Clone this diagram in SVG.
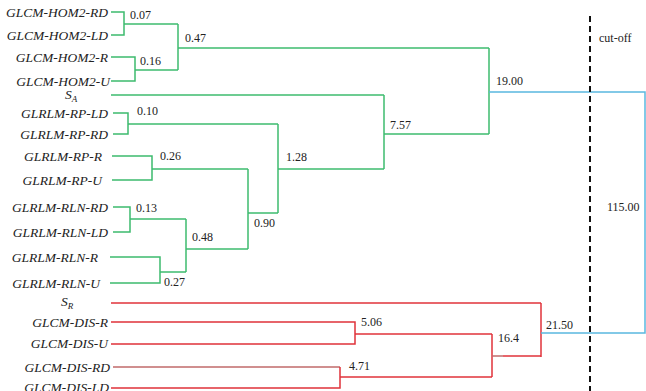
<svg xmlns="http://www.w3.org/2000/svg" width="646" height="391" viewBox="0 0 646 391">
  <style>
    .lbl { font-family: 'Liberation Serif', 'DejaVu Serif', serif; font-style: italic; font-size: 13.5px; fill: #222; text-anchor: end; }
    .sub { font-size: 9px; }
    .num { font-family: 'Liberation Serif', 'DejaVu Serif', serif; font-size: 12px; fill: #222; }
    .g { fill: none; stroke: #3dbb6e; stroke-width: 1.5; }
    .r { fill: none; stroke: #e0323a; stroke-width: 1.5; }
    .rm { fill: none; stroke: #c06a6a; stroke-width: 1.5; }
    .b { fill: none; stroke: #5ab8e0; stroke-width: 1.5; }
    .cut { fill: none; stroke: #111; stroke-width: 2; stroke-dasharray: 6 4; }
  </style>
  <rect width="646" height="391" fill="#fff"/>

  <!-- leaf labels -->
  <g id="leaves">
    <g id="n-hom2-rd"><text class="lbl" x="108" y="16.5">GLCM-HOM2-RD</text></g>
    <g id="n-hom2-ld"><text class="lbl" x="108" y="39.5">GLCM-HOM2-LD</text></g>
    <g id="n-hom2-r"><text class="lbl" x="108" y="61.5">GLCM-HOM2-R</text></g>
    <g id="n-hom2-u"><text class="lbl" x="110" y="85.5">GLCM-HOM2-U</text></g>
    <g id="n-sa"><text class="lbl" x="71" y="99" style="text-anchor:middle">S<tspan class="sub" dy="3">A</tspan></text></g>
    <g id="n-rp-ld"><text class="lbl" x="108" y="117.5">GLRLM-RP-LD</text></g>
    <g id="n-rp-rd"><text class="lbl" x="108" y="138.5">GLRLM-RP-RD</text></g>
    <g id="n-rp-r"><text class="lbl" x="102" y="160.5">GLRLM-RP-R</text></g>
    <g id="n-rp-u"><text class="lbl" x="102" y="184.5">GLRLM-RP-U</text></g>
    <g id="n-rln-rd"><text class="lbl" x="108" y="211.5">GLRLM-RLN-RD</text></g>
    <g id="n-rln-ld"><text class="lbl" x="108" y="236.5">GLRLM-RLN-LD</text></g>
    <g id="n-rln-r"><text class="lbl" x="98" y="261.5">GLRLM-RLN-R</text></g>
    <g id="n-rln-u"><text class="lbl" x="100" y="287.5">GLRLM-RLN-U</text></g>
    <g id="n-sr"><text class="lbl" x="67" y="306" style="text-anchor:middle">S<tspan class="sub" dy="3">R</tspan></text></g>
    <g id="n-dis-r"><text class="lbl" x="108" y="326.5">GLCM-DIS-R</text></g>
    <g id="n-dis-u"><text class="lbl" x="108" y="347.5">GLCM-DIS-U</text></g>
    <g id="n-dis-rd"><text class="lbl" x="110" y="371.5">GLCM-DIS-RD</text></g>
    <g id="n-dis-ld"><text class="lbl" x="109" y="392">GLCM-DIS-LD</text></g>
  </g>

  <!-- dendrogram branches -->
  <g id="connectors">
    <!-- first cluster (green) -->
    <path class="g" d="M111,12 H124 V35 H111"/>
    <path class="g" d="M124,24 H178"/>
    <path class="g" d="M111,57 H135 V81 H111"/>
    <path class="g" d="M135,70 H178"/>
    <path class="g" d="M178,24 V70"/>
    <path class="g" d="M178,48 H489"/>
    <path class="g" d="M111,95 H384"/>
    <path class="g" d="M113,113 H128 V134 H113"/>
    <path class="g" d="M128,124 H278"/>
    <path class="g" d="M112,156 H152 V180 H112"/>
    <path class="g" d="M152,169 H248"/>
    <path class="g" d="M113,207 H130 V232 H113"/>
    <path class="g" d="M130,219 H186"/>
    <path class="g" d="M110,257 H160 V283 H110"/>
    <path class="g" d="M160,272 H186"/>
    <path class="g" d="M186,219 V272"/>
    <path class="g" d="M186,249 H248"/>
    <path class="g" d="M248,169 V249"/>
    <path class="g" d="M248,213 H278"/>
    <path class="g" d="M278,124 V213"/>
    <path class="g" d="M278,169 H384"/>
    <path class="g" d="M384,95 V169"/>
    <path class="g" d="M384,134 H489"/>
    <path class="g" d="M489,48 V134"/>

    <!-- second cluster (red) -->
    <path class="r" d="M111,303 H541"/>
    <path class="r" d="M111,322 H355 V344 H111"/>
    <path class="r" d="M355,334 H492"/>
    <path class="rm" d="M113,367 H340"/>
    <path class="r" d="M340,367 V388 H111"/>
    <path class="r" d="M340,377 H492"/>
    <path class="r" d="M492,334 V377"/>
    <path class="rm" d="M492,356 H503"/>
    <path class="r" d="M503,356 H541"/>
    <path class="r" d="M541,303 V357"/>

    <!-- top-level join (blue) -->
    <path class="b" d="M489,92 H645 V333 H541"/>

    <!-- cut-off threshold -->
    <path class="cut" d="M590,16 V391"/>
  </g>

  <!-- merge distances -->
  <g id="distances">
    <text class="num" x="130" y="19">0.07</text>
    <text class="num" x="185" y="42">0.47</text>
    <text class="num" x="140" y="65">0.16</text>
    <text class="num" x="137" y="115">0.10</text>
    <text class="num" x="160" y="160">0.26</text>
    <text class="num" x="136" y="212">0.13</text>
    <text class="num" x="192" y="241">0.48</text>
    <text class="num" x="164" y="286">0.27</text>
    <text class="num" x="286" y="161">1.28</text>
    <text class="num" x="390" y="129">7.57</text>
    <text class="num" x="254" y="227">0.90</text>
    <text class="num" x="361" y="326">5.06</text>
    <text class="num" x="349" y="370">4.71</text>
    <text class="num" x="496" y="85">19.00</text>
    <text class="num" x="599" y="42">cut-off</text>
    <text class="num" x="607" y="211">115.00</text>
    <text class="num" x="546" y="329">21.50</text>
    <text class="num" x="498" y="342">16.4</text>
  </g>
</svg>
